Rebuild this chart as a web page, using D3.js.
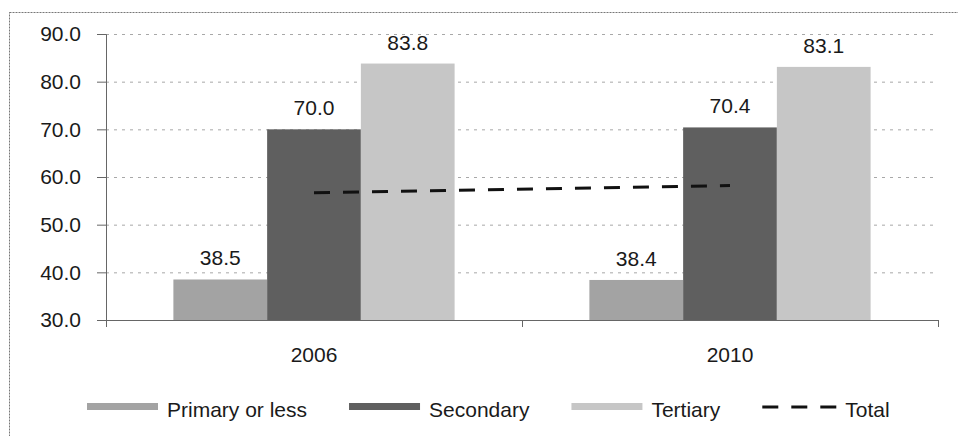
<!DOCTYPE html>
<html lang="en">
<head>
    <meta charset="UTF-8">
    <title>Education levels 2006 vs 2010</title>
    <script src="https://d3js.org/d3.v7.min.js"></script>
    <style>
        body { margin: 0; background: #fff; }
        text { font-family: "Liberation Sans", Arial, sans-serif; fill: #1a1a1a; }
    </style>
</head>
<body>
<script>
    const width = 958;
    const height = 436;
    const margin = {top: 34, right: 20, bottom: 116, left: 106};
    const fontSize = "21px";

    // data
    const years = ["2006", "2010"];
    const series = ["Primary or less", "Secondary", "Tertiary"];
    const primary = [38.5, 38.4];
    const secondary = [70.0, 70.4];
    const tertiary = [83.8, 83.1];
    const total = [56.7, 58.2];
    const yTicks = [30, 40, 50, 60, 70, 80, 90];

    const colors = ["#a3a3a3", "#5f5f5f", "#c6c6c6"];
    const values = [primary, secondary, tertiary];

    const svg = d3.select("body").append("svg")
            .attr("width", width).attr("height", height);

    // outer frame (right and bottom edges fall outside the picture)
    svg.append("rect")
            .attr("x", 9.5).attr("y", 12.5)
            .attr("width", 1000).attr("height", 1000)
            .style("fill", "none")
            .style("stroke", "#777")
            .style("stroke-dasharray", "2,1");

    const x = d3.scaleBand().domain(years)
            .range([margin.left, width - margin.right]);
    const groupW = x.bandwidth() * 0.676;
    const xs = d3.scaleBand().domain(series)
            .range([(x.bandwidth() - groupW) / 2, (x.bandwidth() + groupW) / 2]);
    const y = d3.scaleLinear().domain([30, 90])
            .range([height - margin.bottom, margin.top]);

    // gridlines
    svg.append("g").attr("class", "grid")
            .selectAll("line")
            .data(yTicks.slice(1))
            .enter().append("line")
            .attr("x1", margin.left).attr("x2", width - margin.right)
            .attr("y1", d => y(d) + 0.5).attr("y2", d => y(d) + 0.5)
            .style("stroke", "#a8a8a8")
            .style("stroke-dasharray", "3,5");

    // bars
    years.forEach((yr, i) => {
        const g = svg.append("g").attr("transform", `translate(${x(yr)},0)`);
        g.selectAll("rect")
                .data(series)
                .enter().append("rect")
                .attr("x", s => xs(s))
                .attr("width", xs.bandwidth())
                .attr("y", (s, j) => y(values[j][i]))
                .attr("height", (s, j) => y(30) - y(values[j][i]))
                .style("fill", (s, j) => colors[j]);
        g.selectAll("text")
                .data(series)
                .enter().append("text")
                .attr("x", s => xs(s) + xs.bandwidth() / 2)
                .attr("y", (s, j) => y(values[j][i]) - 14)
                .attr("text-anchor", "middle")
                .style("font-size", fontSize)
                .text((s, j) => values[j][i].toFixed(1));
    });

    // total line
    const line = d3.line()
            .x((d, i) => x(years[i]) + x.bandwidth() / 2)
            .y(d => y(d));
    svg.append("path")
            .datum(total)
            .attr("d", line)
            .style("fill", "none")
            .style("stroke", "#111")
            .style("stroke-width", 3)
            .style("stroke-dasharray", "16,13");

    // axes
    const yAxis = d3.axisLeft(y).tickValues(yTicks)
            .tickFormat(d3.format(".1f"))
            .tickSize(9).tickPadding(16);
    const gy = svg.append("g")
            .attr("transform", `translate(${margin.left},0)`)
            .call(yAxis);
    gy.selectAll("text").style("font-size", fontSize).style("font-family", "Liberation Sans, Arial, sans-serif").attr("fill", "#1a1a1a");
    gy.selectAll("line,path").style("stroke", "#666");

    const xAxis = d3.axisBottom(x).tickSize(0).tickPadding(27);
    const gx = svg.append("g")
            .attr("transform", `translate(0,${y(30)})`)
            .call(xAxis);
    gx.select(".domain").style("stroke", "#666");
    gx.selectAll("text").style("font-size", fontSize).style("font-family", "Liberation Sans, Arial, sans-serif").attr("fill", "#1a1a1a");
    // category boundary ticks
    gx.selectAll("line.sep")
            .data([margin.left, x("2010"), width - margin.right])
            .enter().append("line")
            .attr("class", "sep")
            .attr("x1", d => d + 0.5).attr("x2", d => d + 0.5)
            .attr("y1", 0).attr("y2", 7)
            .style("stroke", "#666");

    // legend
    const legendItems = series.map((s, i) => ({name: s, color: colors[i]}))
            .concat([{name: "Total", dashed: true}]);
    const legend = svg.append("g").attr("class", "legend");
    let lx = 87;
    legendItems.forEach(item => {
        const g = legend.append("g");
        let sw;
        if (item.dashed) {
            sw = 79;
            g.append("line")
                    .attr("x1", lx).attr("x2", lx + sw)
                    .attr("y1", 407).attr("y2", 407)
                    .style("stroke", "#111")
                    .style("stroke-width", 3)
                    .style("stroke-dasharray", "16,13");
        } else {
            sw = 71;
            g.append("rect")
                    .attr("x", lx).attr("y", 403)
                    .attr("width", sw).attr("height", 7)
                    .style("fill", item.color);
        }
        const t = g.append("text")
                .attr("x", lx + sw + (item.dashed ? 4 : 9))
                .attr("y", 417)
                .style("font-size", fontSize)
                .text(item.name);
        lx += sw + 9 + t.node().getComputedTextLength() + 42;
    });
</script>
</body>
</html>
